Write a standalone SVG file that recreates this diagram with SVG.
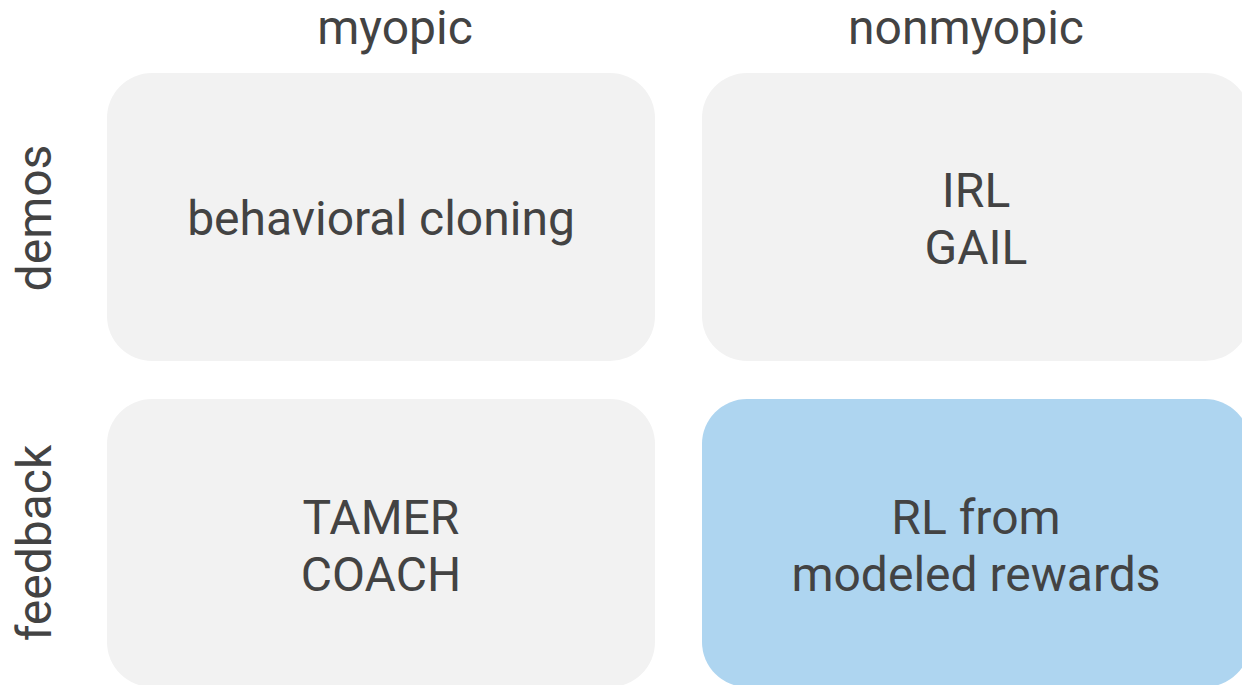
<svg xmlns="http://www.w3.org/2000/svg" width="1242" height="685" viewBox="0 0 1242 685">
  <style>
    .cell { fill: #f2f2f2; }
    .cell.hl { fill: #aed5f0; }
    text { font-family: Roboto, "Liberation Sans", sans-serif; fill: #434343; font-size: 48px; text-anchor: middle; }
  </style>
  <rect width="1242" height="685" fill="#ffffff"/>
  <g id="col-labels">
    <text x="395" y="44">myopic</text>
    <text x="966" y="44">nonmyopic</text>
  </g>
  <g id="row-labels">
    <text transform="translate(51 218) rotate(-90)">demos</text>
    <text transform="translate(51 543) rotate(-90)">feedback</text>
  </g>
  <g id="bc">
    <rect class="cell" x="107" y="73" width="548" height="288" rx="45"/>
    <text x="381" y="235">behavioral cloning</text>
  </g>
  <g id="irl-gail">
    <rect class="cell" x="702" y="73" width="548" height="288" rx="45"/>
    <text x="976" y="207">IRL</text>
    <text x="976" y="264">GAIL</text>
  </g>
  <g id="tamer-coach">
    <rect class="cell" x="107" y="399" width="548" height="288" rx="45"/>
    <text x="381" y="534">TAMER</text>
    <text x="381" y="591">COACH</text>
  </g>
  <g id="rl-modeled">
    <rect class="cell hl" x="702" y="399" width="548" height="288" rx="45"/>
    <text x="976" y="534">RL from</text>
    <text x="976" y="591">modeled rewards</text>
  </g>
  <g id="connectors"/>
</svg>
